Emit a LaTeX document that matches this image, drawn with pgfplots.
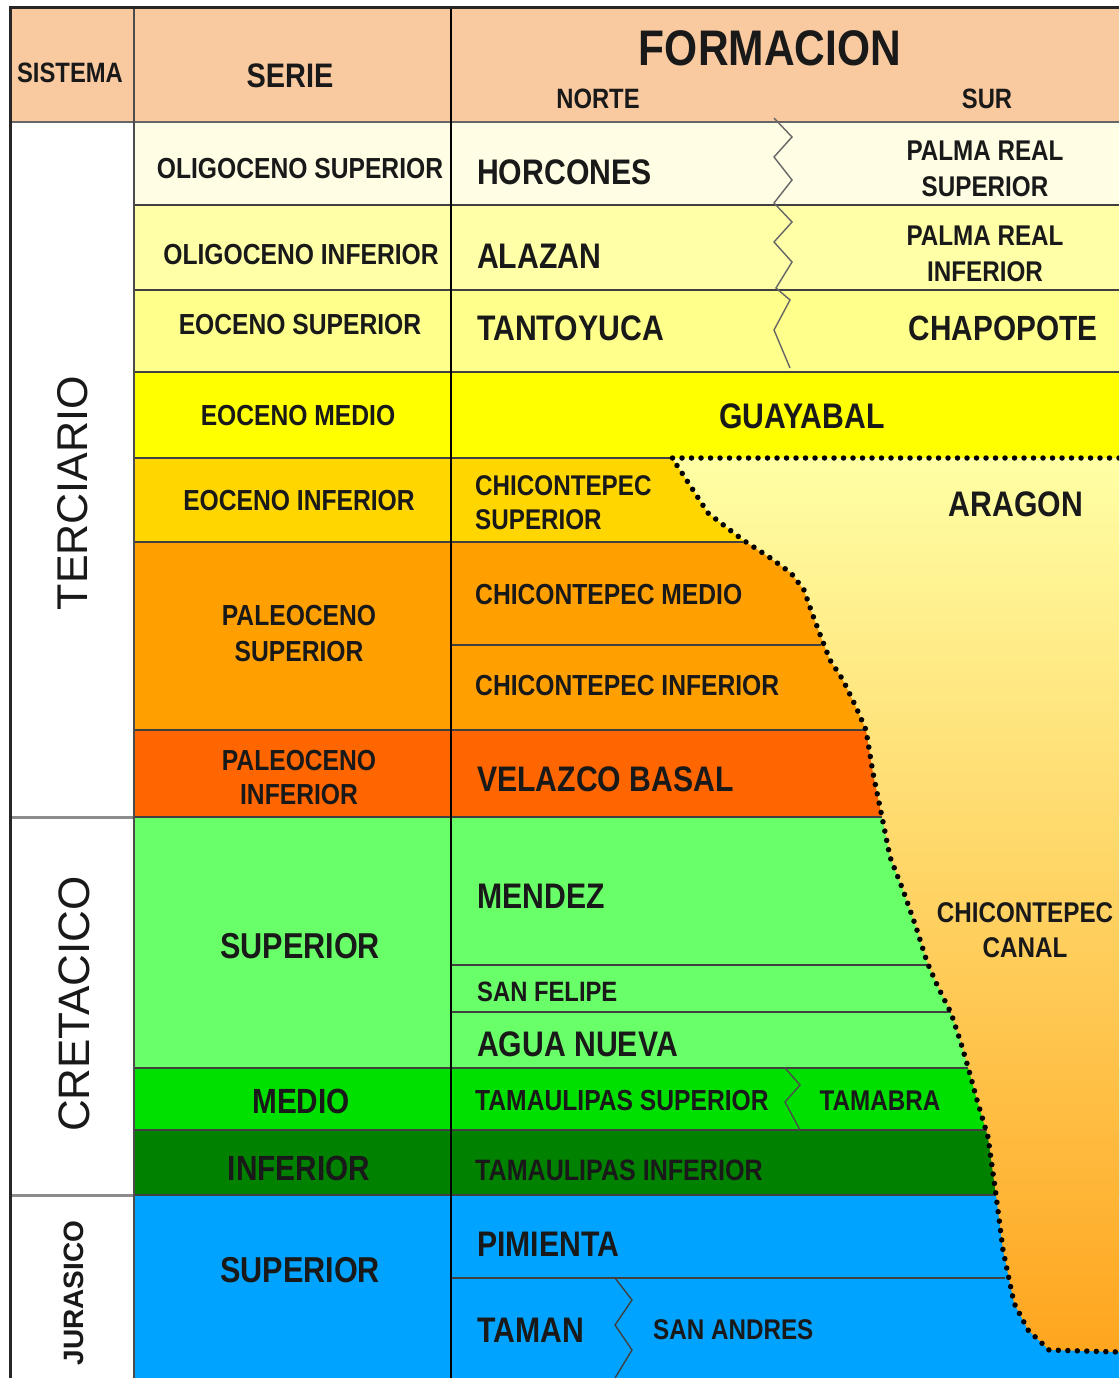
\documentclass[border=0pt]{standalone}
\usepackage{pgfplots}
\pgfplotsset{compat=1.18}
\usepackage{fontspec}
\setmainfont{Liberation Sans}
\newfontfamily\cf{Liberation Sans}[FakeStretch=0.85]

\definecolor{hdr}{RGB}{249,201,160}
\definecolor{olsup}{RGB}{255,253,228}
\definecolor{olinf}{RGB}{255,255,168}
\definecolor{eosup}{RGB}{255,255,140}
\definecolor{eomed}{RGB}{255,255,0}
\definecolor{eoinf}{RGB}{255,214,0}
\definecolor{pasup}{RGB}{255,160,0}
\definecolor{painf}{RGB}{255,102,0}
\definecolor{crsup}{RGB}{104,255,104}
\definecolor{crmed}{RGB}{0,224,0}
\definecolor{crinf}{RGB}{0,130,0}
\definecolor{jur}{RGB}{0,163,255}
\definecolor{gtop}{RGB}{255,255,165}
\definecolor{gmid}{RGB}{255,214,110}
\definecolor{gbot}{RGB}{255,165,30}

% filled rectangle: x1 y1 x2 y2 colour
\newcommand{\rect}[5]{\addplot[fill=#5,draw=none] coordinates {(#1,#2) (#3,#2) (#3,#4) (#1,#4) (#1,#2)};}
% horizontal line: y x1 x2
\newcommand{\hl}[3]{\addplot[black!75,line width=2.3pt] coordinates {(#2,#1) (#3,#1)};}
% label: anchor, x,y, size, baselineskip, text
\newcommand{\T}[5]{\node[anchor=#1,inner sep=0pt,align=center,text=black!90,font={\fontsize{#3}{#4}\selectfont\cf\bfseries}] at (axis cs:#2) {#5};}
\newcommand{\TL}[5]{\node[anchor=#1,inner sep=0pt,align=left,text=black!90,font={\fontsize{#3}{#4}\selectfont\cf\bfseries}] at (axis cs:#2) {#5};}

\begin{document}
\begin{tikzpicture}
\begin{axis}[width=1119pt,height=1378pt,scale only axis,
  xmin=0,xmax=1119,ymin=0,ymax=1378,y dir=reverse,hide axis]
% background
\rect{0}{0}{1119}{1378}{white}
% header
\rect{10}{8}{1119}{122}{hdr}
% rows
\rect{134}{122}{1119}{205}{olsup}
\rect{134}{205}{1119}{290}{olinf}
\rect{134}{290}{1119}{372}{eosup}
\rect{134}{372}{1119}{458}{eomed}
\rect{134}{458}{1119}{542}{eoinf}
\rect{134}{542}{1119}{730}{pasup}
\rect{134}{730}{1119}{817}{painf}
\rect{134}{817}{1119}{1068}{crsup}
\rect{134}{1068}{1119}{1130}{crmed}
\rect{134}{1130}{1119}{1195}{crinf}
\rect{134}{1195}{1119}{1378}{jur}
% Aragon / Chicontepec canal area
\addplot[draw=none,top color=gtop,middle color=gmid,bottom color=gbot] coordinates {
 (672,458) (1119,458) (1119,1352) (1049,1350) (1028,1330) (1014,1303) (1003,1250)
 (996,1195) (988,1137) (977,1100) (968,1067) (960,1040) (951,1013) (938,987)
 (927,962) (916,927) (903,890) (890,857) (882,817) (873,773) (866,730) (856,707)
 (843,680) (830,660) (821,637) (812,613) (804,590) (791,573) (769,557) (743,540)
 (726,527) (708,513) (695,493) (682,473) (672,458)};
% horizontal boundaries
\addplot[black!60,line width=2.5pt] coordinates {(10,122) (1119,122)};
\hl{205}{134}{1119}
\hl{290}{134}{1119}
\hl{372}{134}{1119}
\hl{458}{134}{672}
\hl{542}{134}{743}
\hl{645}{451}{821}
\hl{730}{134}{866}
\hl{817}{134}{882}
\hl{965}{451}{927}
\hl{1012}{451}{951}
\hl{1068}{134}{968}
\hl{1130}{134}{987}
\hl{1195}{134}{996}
\hl{1278}{451}{1005}
% sistema separators
\addplot[black!45,line width=3pt] coordinates {(10,817) (134,817)};
\addplot[black!45,line width=3pt] coordinates {(10,1195) (134,1195)};
% vertical lines
\addplot[black!70,line width=2pt] coordinates {(134,8) (134,1378)};
\addplot[black,line width=1.3pt] coordinates {(451,8) (451,1378)};
% outer border
\addplot[black!85,line width=3pt] coordinates {(10,1378) (10,8) (1119,8)};
% zigzag contacts
\addplot[black!60,line width=1.4pt] coordinates {(774,118) (792,137) (774,157) (792,180) (774,203) (792,222) (774,242) (792,262) (776,288) (790,300) (774,330) (790,368)};
\addplot[black!70,line width=1.4pt] coordinates {(785,1068) (800,1085) (785,1102) (800,1130)};
\addplot[black!75,line width=1.4pt] coordinates {(615,1278) (632,1300) (615,1325) (632,1350) (615,1378)};
% dotted boundary
\addplot[black,line width=5.5pt,dash pattern=on 0pt off 9.5pt,line cap=round] coordinates {
 (1119,458) (672,458) (682,473) (695,493) (708,513) (726,527) (743,540) (769,557)
 (791,573) (804,590) (812,613) (821,637) (830,660) (843,680) (856,707) (866,730)
 (873,773) (882,817) (890,857) (903,890) (916,927) (927,962) (938,987) (951,1013)
 (960,1040) (968,1067) (977,1100) (988,1137) (996,1195) (1003,1250) (1014,1303)
 (1028,1330) (1049,1350) (1119,1352)};

% header texts
\T{center}{70,73}{28}{34}{SISTEMA}
\T{center}{290,76}{34}{40}{SERIE}
\T{center}{770,48}{50}{60}{FORMACION}
\T{center}{598,99}{28}{34}{NORTE}
\T{center}{987,99}{28}{34}{SUR}
% sistema
\node[rotate=90,inner sep=0pt,text=black!90] at (axis cs:73,493) {\fontsize{43}{50}\selectfont TERCIARIO};
\node[rotate=90,inner sep=0pt,text=black!90] at (axis cs:74,1004) {\fontsize{44}{50}\selectfont CRETACICO};
\node[rotate=90,inner sep=0pt,text=black!90] at (axis cs:74,1293) {\fontsize{28}{34}\selectfont\bfseries JURASICO};
% serie
\T{center}{300,169}{29}{36}{OLIGOCENO SUPERIOR}
\T{center}{301,255}{29}{36}{OLIGOCENO INFERIOR}
\T{center}{300,325}{29}{36}{EOCENO SUPERIOR}
\T{center}{298,416}{29}{36}{EOCENO MEDIO}
\T{center}{299,501}{29}{36}{EOCENO INFERIOR}
\T{center}{299,634}{29}{36}{PALEOCENO\\SUPERIOR}
\T{center}{299,778}{29}{34}{PALEOCENO\\INFERIOR}
\T{center}{300,946}{36}{42}{SUPERIOR}
\T{center}{301,1101}{35}{42}{MEDIO}
\T{center}{299,1168}{35}{42}{INFERIOR}
\T{center}{300,1270}{36}{42}{SUPERIOR}
% formations
\TL{west}{477,172}{35.5}{42}{HORCONES}
\TL{west}{477,256}{35.5}{42}{ALAZAN}
\TL{west}{477,328}{35.5}{42}{TANTOYUCA}
\T{center}{985,169}{28.5}{36}{PALMA REAL\\SUPERIOR}
\T{center}{985,254}{28.5}{36}{PALMA REAL\\INFERIOR}
\T{center}{1003,328}{35}{42}{CHAPOPOTE}
\T{center}{802,416}{35.5}{42}{GUAYABAL}
\TL{west}{475,503}{28.5}{34}{CHICONTEPEC\\SUPERIOR}
\T{center}{1016,504}{35.5}{42}{ARAGON}
\TL{west}{475,595}{29}{36}{CHICONTEPEC MEDIO}
\TL{west}{475,686}{29}{36}{CHICONTEPEC INFERIOR}
\TL{west}{477,779}{35.5}{42}{VELAZCO BASAL}
\TL{west}{477,896}{35.5}{42}{MENDEZ}
\TL{west}{477,992}{28}{34}{SAN FELIPE}
\TL{west}{477,1044}{35.5}{42}{AGUA NUEVA}
\TL{west}{475,1101}{29}{36}{TAMAULIPAS SUPERIOR}
\T{center}{880,1101}{28.5}{36}{TAMABRA}
\TL{west}{475,1170}{29.5}{36}{TAMAULIPAS INFERIOR}
\T{center}{1025,930}{28.5}{35}{CHICONTEPEC\\CANAL}
\TL{west}{477,1244}{35.5}{42}{PIMIENTA}
\TL{west}{477,1330}{35.5}{42}{TAMAN}
\TL{west}{653,1330}{28.5}{36}{SAN ANDRES}
\end{axis}
\end{tikzpicture}
\end{document}
